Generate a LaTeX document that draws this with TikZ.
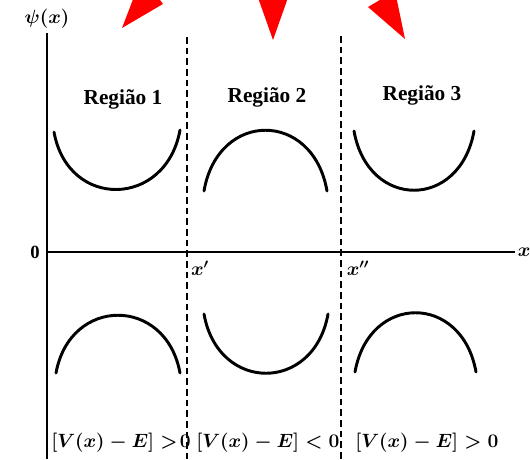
\documentclass[tikz,border=0pt]{standalone}
\usepackage{fontspec}
\setmainfont{Liberation Serif}
\usetikzlibrary{positioning}

\begin{document}
\begin{tikzpicture}[
      x=0.75pt, y=-0.75pt,
      axis/.style={line width=1.8pt},
      border/.style={line width=1.5pt,dash pattern=on 5pt off 3pt},
      wave/.style={line width=2.2pt,line cap=round},
      pointer/.style={fill=red},
      region/.style={font=\fontsize{16}{19}\selectfont\bfseries},
      cond/.style={font=\fontsize{14.5}{17}\selectfont\boldmath,
                   inner sep=0pt,anchor=west},
      axlabel/.style={font=\fontsize{14}{17}\selectfont\bfseries\boldmath,
                      inner sep=0pt},
    ]
    \useasboundingbox (0,0) rectangle (530,459);
    \clip (0,0) rectangle (530,459);

    % Axes
    \coordinate (o)    at (47,252);
    \coordinate (ytop) at (47,33);
    \coordinate (ybot) at (47,459);
    \coordinate (xend) at (515,252);
    \draw[axis] (ytop) -- (ybot);
    \draw[axis] (o) -- (xend);
    \node[axlabel] (psi)  at (47,19) {$\psi(x)$};
    \node[axlabel] (zero) at (35,252) {0};
    \node[axlabel,right=2pt of xend] (xlab) {$x$};

    % Region borders
    \coordinate (b1) at (187,37);
    \coordinate (b2) at (341,36);
    \foreach \b in {b1,b2}
      \draw[border] (\b) -- (\b |- ybot);
    \node[axlabel] (xp)  at (200,268) {$x'$};
    \node[axlabel] (xpp) at (358,268) {$x''$};

    % Region names
    \node[region] (r1) at (123,99) {Região 1};
    \node[region] (r2) at (267,97) {Região 2};
    \node[region] (r3) at (422,95) {Região 3};

    % Wave functions (upper and lower)
    \foreach \xa/\ya/\xb/\yb/\d in {54/132/180/130/78, 204/191/327/191/-81,
        354/131/474/131/79, 56/373/180/373/-77, 204/314/328/314/79,
        355/372/476/372/-79}
      \draw[wave] (\xa,\ya) .. controls +(14,\d) and +(-14,\d) .. (\xb,\yb);

    % Conditions
    \node[cond] (c1) at (51,443)  {$[V(x)-E]>\!0$};
    \node[cond] (c2) at (196,443) {$[V(x)-E]<0$};
    \node[cond] (c3) at (355,443) {$[V(x)-E]>0$};

    % Red pointers
    \fill[pointer] (122,28) -- (163,4) -- (142,-24) -- cycle;
    \fill[pointer] (273,40) -- (290,-8) -- (256,-8) -- cycle;
    \fill[pointer] (405,39) -- (368,7) -- (395,-9) -- cycle;

  \end{tikzpicture}
\end{document}
